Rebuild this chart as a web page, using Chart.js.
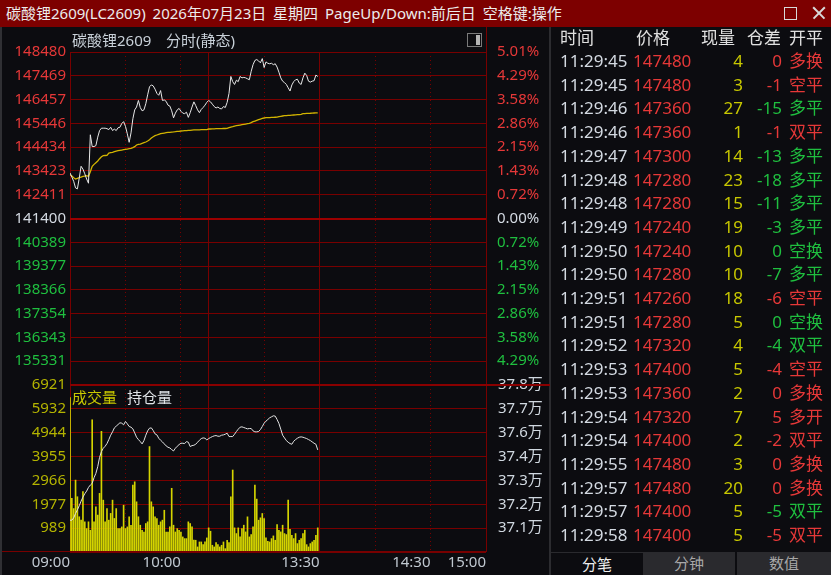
<!DOCTYPE html>
<html lang="zh-CN">
<head>
<meta charset="utf-8">
<title>碳酸锂2609 分时</title>
<script src="https://cdn.jsdelivr.net/npm/chart.js@4.4.1/dist/chart.umd.min.js"></script>
<style>
  html, body { margin: 0; padding: 0; background: #0c0c10; }
  body { width: 831px; height: 575px; position: relative; overflow: hidden;
         font-family: "Noto Sans", "Noto Sans CJK SC", sans-serif; }
  .abs { position: absolute; white-space: nowrap; }
  canvas { position: absolute; left: 0; }
  #titlebar { left: 0; top: 0; width: 831px; height: 27px; background: #7d0000;
              color: #ececec; font-size: 15px; line-height: 27px; }
  #titlebar .txt { position: absolute; left: 6px; top: 0; word-spacing: 3px; }
  .maxbox { left: 784px; top: 7px; width: 11px; height: 11px; border: 1.5px solid #d8d8d8; }
  .closex { left: 811px; top: 5px; width: 16px; height: 16px; }
  .closex:before, .closex:after { content: ""; position: absolute; left: 0; top: 7px; width: 16px;
              height: 1.5px; background: #d8d8d8; }
  .closex:before { transform: rotate(45deg); }
  .closex:after { transform: rotate(-45deg); }
  .lbl { font-size: 15px; line-height: 18px; z-index: 5; }
  .row { font-size: 17px; line-height: 24px; height: 24px; z-index: 5; }
  .row span { position: absolute; top: 0; white-space: nowrap; }
  .tab { top: 552px; height: 23px; font-size: 15px; line-height: 23px; text-align: center; z-index: 5; }
</style>
</head>
<body>
<div id="titlebar" class="abs">
  <span class="txt">碳酸锂2609(LC2609) 2026年07月23日 星期四 PageUp/Down:前后日 空格键:操作</span>
  <div class="abs maxbox"></div>
  <div class="abs closex"></div>
</div>

<!-- frame lines -->
<div class="abs" style="left:0;top:27px;width:2px;height:548px;background:#303034;"></div>
<div class="abs" style="left:549px;top:27px;width:2px;height:548px;background:#2c2c30;"></div>
<div class="abs" style="left:486px;top:27px;width:1px;height:26px;background:#780000;"></div>

<canvas id="volChart" width="550" height="210" style="top:365px;"></canvas>
<canvas id="priceChart" width="550" height="374" style="top:27px;"></canvas>

<div class="abs" style="left:70px;top:384px;width:480px;height:2px;background:#8a0000;z-index:4;"></div>
<div class="abs" style="left:2px;top:551px;width:485px;height:1px;background:#780000;z-index:4;"></div>

<div class="abs lbl" style="left:72px;top:31px;color:#c8d0d8;">碳酸锂2609</div>
<div class="abs lbl" style="left:166px;top:31px;color:#c8d0d8;">分时(静态)</div>
<div class="abs" style="left:467px;top:33px;width:13px;height:12px;border:1px solid #7a7a7a;z-index:5;">
  <div class="abs" style="right:1px;top:1px;width:4px;height:10px;background:#b4b4b4;"></div>
</div>
<div class="abs lbl" style="left:72px;top:388px;color:#c8c800;">成交量</div>
<div class="abs lbl" style="left:127px;top:388px;color:#e0e4e8;">持仓量</div>

<div id="ticks"></div>

<div class="abs tab" style="left:551px;width:92px;background:#0c0c10;color:#f0f0f0;border-top:1px solid #2a2a2e;">分笔</div>
<div class="abs tab" style="left:643px;width:92px;background:#2a2a2e;color:#a8a8a8;">分钟</div>
<div class="abs tab" style="left:737px;width:94px;background:#2a2a2e;color:#a8a8a8;">数值</div>

<script>
// ---- minute data, 09:00 .. 11:30 (trading minutes from the open) ----
var prices = [
  143340,143160,142980,142700,142660,143120,143620,143500,143300,143080,
  142900,144960,144460,144460,144500,144860,145140,145240,145240,145240,
  145220,145180,145280,145140,145200,145140,145260,145280,145440,145520,
  145320,145000,144640,145040,145640,146020,146140,146420,146120,145980,
  146020,146280,146660,147000,147080,147040,146900,146720,146640,146840,
  146420,146440,146380,146220,146180,145980,145680,145880,146020,146080,
  145960,145880,145860,145920,145700,145900,146140,146360,146200,146020,
  145900,146040,146120,146220,146340,146420,146360,146260,146160,146100,
  146140,146080,146060,146160,146120,146340,146720,147440,147220,147100,
  147280,147220,147440,147380,147400,147380,147340,147300,147660,147940,
  148120,148160,148100,148020,148200,147820,148060,148000,147980,148000,
  147940,147980,147840,147620,147380,147240,147180,147100,146960,146820,
  147080,147220,147300,147320,147160,147100,147380,147580,147480,147240,
  147200,147240,147260,147500,147440
];
var avgPrices = [
  143263,143206,143136,143079,143107,143136,143164,143192,143206,143221,
  143192,143391,143617,143702,143773,143844,143943,144028,144071,144078,
  144085,144184,144199,144213,144241,144269,144284,144298,144312,144326,
  144340,144354,144369,144383,144411,144454,144525,144553,144567,144595,
  144624,144652,144695,144751,144822,144879,144921,144950,144978,145006,
  145021,145035,145049,145063,145066,145077,145080,145091,145106,145108,
  145120,145122,145134,145136,145148,145150,145162,145165,145168,145170,
  145172,145175,145176,145178,145180,145205,145205,145208,145210,145219,
  145220,145222,145224,145226,145228,145230,145262,145290,145304,145332,
  145347,145361,145375,145389,145403,145417,145432,145446,145474,145517,
  145545,145573,145602,145630,145658,145673,145687,145690,145693,145701,
  145703,145705,145707,145729,145743,145758,145772,145774,145786,145788,
  145800,145802,145804,145814,145816,145828,145857,145859,145871,145873,
  145875,145885,145887,145889,145891
];
var volumes = [
  6400,2220,1800,2980,2290,1460,1320,2500,1250,970,
  1250,900,5480,1250,1870,1530,2430,5000,2150,1250,
  1800,1320,1600,2150,1390,1800,970,970,1040,1940,
  970,1040,1460,1110,2770,2910,2080,1460,1110,900,
  830,1180,1250,4370,2080,1870,1460,1390,1110,1250,
  1320,1730,830,830,1040,2640,1110,830,970,900,
  830,625,555,555,1250,1180,1040,490,487,210,
  417,417,306,417,584,1000,861,279,210,390,
  306,210,279,417,140,487,390,2289,3398,1000,
  764,1000,625,972,1111,833,1457,625,723,1041,
  2774,2192,1318,1416,1596,1388,584,445,417,556,
  667,487,1138,903,833,1111,764,723,2150,944,
  695,556,764,348,487,556,764,903,306,210,
  348,417,487,695,1000
];
var openInterest = [
  371370,371370,371485,371698,371879,372076,372305,372502,372666,372798,
  372978,373093,373175,373454,373667,373995,374455,374734,374898,374996,
  375127,375324,375538,375702,375898,375981,376063,376145,376128,376046,
  376210,376095,375964,375931,375849,375652,375439,375324,375226,375111,
  375275,375538,375751,375882,375898,375767,375603,375554,375390,375291,
  375209,375111,375013,374947,374914,374832,374766,374898,374996,375078,
  375144,375144,375127,375226,375193,374980,375029,375045,375095,375193,
  375291,375373,375406,375390,375308,375373,375423,375472,375505,375521,
  375488,375488,375538,375554,375587,375636,375472,375472,375472,375587,
  375718,375833,375931,375948,375915,375882,375849,375866,375866,375751,
  375702,375702,375718,375816,375964,376128,376227,376309,376391,376440,
  376489,376473,376309,376112,375833,375538,375406,375275,375193,375127,
  375095,375242,375324,375390,375439,375456,375439,375406,375373,375324,
  375275,375209,375144,375095,374816
];

// ---- axes ----
var prevClose = 141400;
var priceMin = 134320, priceMax = 148480;
var priceTickLabels = ['148480','147469','146457','145446','144434','143423','142411',
                       '141400','140389','139377','138366','137354','136343','135331'];
var pctTickLabels = ['5.01%','4.29%','3.58%','2.86%','2.15%','1.43%','0.72%',
                     '0.00%','0.72%','1.43%','2.15%','2.86%','3.58%','4.29%'];
var volMax = 6921;
var volTickLabels = ['6921','5932','4944','3955','2966','1977','989'];
var oiMax = 378000, oiStep = 1170;
var oiTickLabels = ['37.8万','37.7万','37.6万','37.4万','37.3万','37.2万','37.1万'];
var sessionMinutes = 225;
var gridMinutes = [0, 30, 60, 75, 105, 135, 165, 195, 225];
var dottedMinutes = [30, 60, 105, 165, 195];
var timeLabelMinutes = [0, 60, 135, 195, 225];
var timeTickLabels = ['09:00', '10:00', '13:30', '14:30', '15:00'];

// ---- tick table ----
var tradeTimes = ['11:29:45','11:29:45','11:29:46','11:29:46','11:29:47','11:29:48','11:29:48',
  '11:29:49','11:29:50','11:29:50','11:29:51','11:29:51','11:29:52','11:29:53','11:29:53',
  '11:29:54','11:29:54','11:29:55','11:29:57','11:29:57','11:29:58'];
var tradePrices = [147480,147480,147360,147360,147300,147280,147280,147240,147240,147280,
  147260,147280,147320,147400,147360,147320,147400,147480,147480,147400,147400];
var tradeVols = [4,3,27,1,14,23,15,19,10,10,18,5,4,5,2,7,2,3,20,5,5];
var tradeOiChg = [0,-1,-15,-1,-13,-18,-11,-3,0,-7,-6,0,-4,-4,0,5,-2,0,0,-5,-5];
var tradeTypes = ['多换','空平','多平','双平','多平','多平','多平','多平','空换','多平','空平',
  '空换','双平','空平','多换','多开','双平','多换','多换','双平','双平'];
var tradeSides = ['r','r','g','r','g','g','g','g','g','g','r','g','g','r','r','r','r','r','r','g','r'];

var FONT = '"Noto Sans", "Noto Sans CJK SC", sans-serif';
var GRID = '#780000';
var RED = '#e63838', GREEN = '#1fbf3f', WHITE = '#d4dae2', YELLOW = '#c8c800';

function xy(arr) {
  return arr.map(function (v, i) { return { x: i, y: v }; });
}
function fixWidth(w) {
  return function (scale) { scale.width = w; };
}
function sideColor(v) {
  if (v > prevClose) return RED;
  if (v < prevClose) return GREEN;
  return WHITE;
}
var priceTickValues = priceTickLabels.map(Number);
var volTickValues = volTickLabels.map(Number);

var xGrid = { color: GRID, lineWidth: 1, drawTicks: false, offset: false };
var xBorder = {
  display: false,
  dash: function (c) {
    return (c.tick && dottedMinutes.indexOf(c.tick.value) >= 0) ? [1, 3] : [];
  }
};
function minuteTicks(scale) {
  scale.ticks = gridMinutes.map(function (v) { return { value: v }; });
}
function priceTicks(scale) {
  scale.ticks = [{ value: priceMin }].concat(priceTickValues.slice().reverse().map(function (v) { return { value: v }; }));
}

new Chart(document.getElementById('priceChart'), {
  type: 'line',
  data: {
    datasets: [
      { label: '价格', data: xy(prices), borderColor: '#e8e8e8', borderWidth: 1, pointRadius: 0, yAxisID: 'y' },
      { label: '均价', data: xy(avgPrices), borderColor: '#d2b400', borderWidth: 1.3, pointRadius: 0, yAxisID: 'y' }
    ]
  },
  options: {
    responsive: false, animation: false, events: [],
    layout: { padding: { top: 25, bottom: 16, left: 0, right: 0 } },
    plugins: { legend: { display: false }, tooltip: { enabled: false } },
    scales: {
      x: {
        type: 'linear', min: 0, max: sessionMinutes, offset: false,
        afterBuildTicks: minuteTicks,
        afterFit: function (s) { s.height = 0; },
        ticks: { display: false },
        grid: xGrid, border: xBorder
      },
      y: {
        position: 'left', min: priceMin, max: priceMax,
        afterBuildTicks: priceTicks,
        afterFit: fixWidth(70),
        ticks: {
          autoSkip: false, padding: 4, font: { family: FONT, size: 15 },
          color: function (c) { return sideColor(c.tick.value); },
          callback: function (v) {
            var i = priceTickValues.indexOf(v);
            return i >= 0 ? priceTickLabels[i] : '';
          }
        },
        grid: {
          drawTicks: false,
          color: function (c) { return c.tick.value === prevClose ? '#9c0000' : GRID; },
          lineWidth: function (c) { return c.tick.value === prevClose ? 2 : 1; }
        },
        border: { display: false }
      },
      y2: {
        position: 'right', min: priceMin, max: priceMax,
        afterBuildTicks: priceTicks,
        afterFit: fixWidth(64),
        ticks: {
          autoSkip: false, padding: 3, font: { family: FONT, size: 15 },
          color: function (c) { return sideColor(c.tick.value); },
          callback: function (v) {
            var i = priceTickValues.indexOf(v);
            return i >= 0 ? pctTickLabels[i] : '';
          }
        },
        grid: { display: false },
        border: { display: false }
      }
    }
  }
});

new Chart(document.getElementById('volChart'), {
  type: 'bar',
  data: {
    datasets: [
      { type: 'line', label: '持仓量', data: xy(openInterest), yAxisID: 'y2',
        borderColor: '#e2e2e2', borderWidth: 1, pointRadius: 0 },
      { type: 'bar', label: '成交量', data: xy(volumes), yAxisID: 'y',
        backgroundColor: '#d4d400', barThickness: 1 }
    ]
  },
  options: {
    responsive: false, animation: false, events: [],
    layout: { padding: { top: 20, bottom: 0, left: 0, right: 0 } },
    plugins: { legend: { display: false }, tooltip: { enabled: false } },
    scales: {
      x: {
        type: 'linear', min: 0, max: sessionMinutes, offset: false,
        afterBuildTicks: minuteTicks,
        afterFit: function (s) { s.height = 23; },
        ticks: {
          autoSkip: false, minRotation: 0, maxRotation: 0, align: 'end', padding: 2,
          color: '#c0c8d0', font: { family: FONT, size: 15 },
          callback: function (v) {
            var i = timeLabelMinutes.indexOf(v);
            return i >= 0 ? timeTickLabels[i] : '';
          }
        },
        grid: xGrid, border: xBorder
      },
      y: {
        position: 'left', min: 0, max: volMax,
        afterBuildTicks: function (scale) {
          scale.ticks = [{ value: 0 }].concat(volTickValues.slice().reverse().map(function (v) { return { value: v }; }));
        },
        afterFit: fixWidth(70),
        ticks: {
          autoSkip: false, padding: 4, color: '#b4b400', font: { family: FONT, size: 15 },
          callback: function (v) {
            var i = volTickValues.indexOf(v);
            return i >= 0 ? volTickLabels[i] : '';
          }
        },
        grid: { color: GRID, lineWidth: 1, drawTicks: false },
        border: { display: false }
      },
      y2: {
        position: 'right', min: oiMax - 7 * oiStep, max: oiMax,
        afterBuildTicks: function (scale) {
          var t = [];
          for (var k = 7; k >= 0; k--) t.push({ value: oiMax - k * oiStep });
          scale.ticks = t;
        },
        afterFit: fixWidth(64),
        ticks: {
          autoSkip: false, padding: 4, color: '#d0d8e0', font: { family: FONT, size: 15 },
          callback: function (v) {
            var k = Math.round((oiMax - v) / oiStep);
            return k < oiTickLabels.length ? oiTickLabels[k] : '';
          }
        },
        grid: { display: false },
        border: { display: false }
      }
    }
  }
});

// ---- right side tick list ----
(function () {
  var box = document.getElementById('ticks');
  var html = '<div class="abs row" style="left:0;top:26px;width:831px;color:#e0e0e0;">' +
    '<span style="left:560px">时间</span><span style="left:636px">价格</span>' +
    '<span style="left:701px">现量</span><span style="left:747px">仓差</span>' +
    '<span style="left:789px">开平</span></div>';
  for (var i = 0; i < tradeTimes.length; i++) {
    var top = 49 + i * 23.7;
    var c = tradeSides[i] === 'r' ? RED : GREEN;
    html += '<div class="abs row" style="left:0;top:' + top + 'px;width:831px;">' +
      '<span style="left:560px;color:' + WHITE + '">' + tradeTimes[i] + '</span>' +
      '<span style="left:633px;color:' + RED + '">' + tradePrices[i] + '</span>' +
      '<span style="left:683px;width:60px;text-align:right;color:' + YELLOW + '">' + tradeVols[i] + '</span>' +
      '<span style="left:732px;width:50px;text-align:right;color:' + c + '">' + tradeOiChg[i] + '</span>' +
      '<span style="left:789px;color:' + c + '">' + tradeTypes[i] + '</span></div>';
  }
  box.innerHTML = html;
})();
</script>
</body>
</html>
